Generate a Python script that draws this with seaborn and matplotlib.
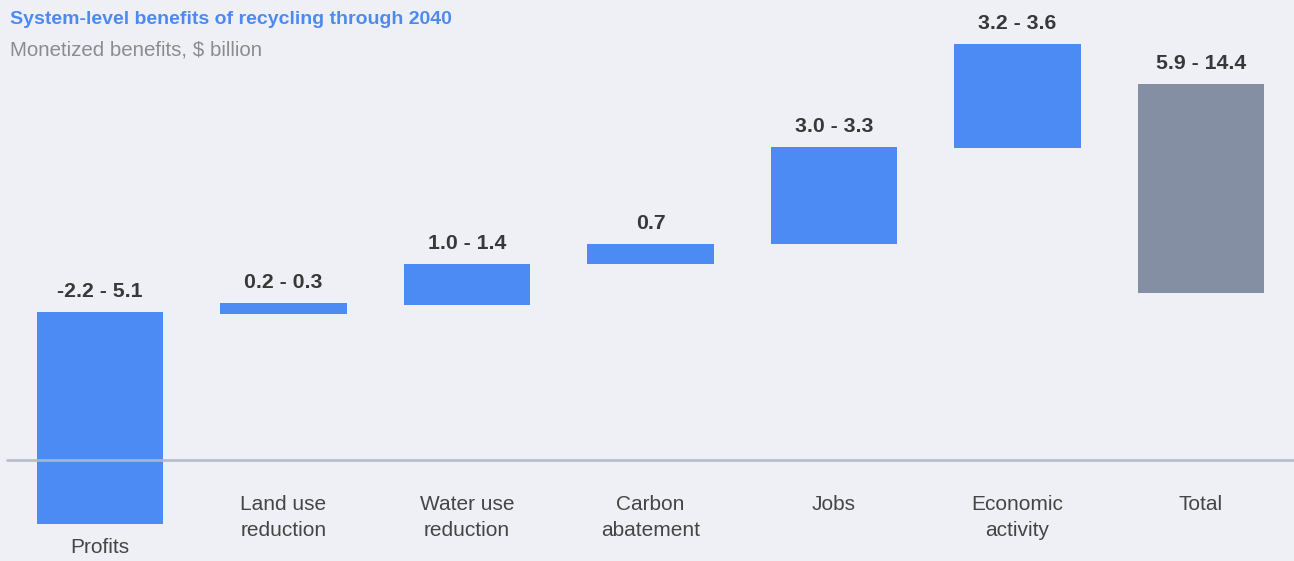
import matplotlib
matplotlib.use("Agg")
import matplotlib.pyplot as plt
import numpy as np
import seaborn as sns

# data (bars float between bottom and top)
categories = ["Profits", "Land use\nreduction", "Water use\nreduction", "Carbon\nabatement",
              "Jobs", "Economic\nactivity", "Total"]
value_labels = ["-2.2 - 5.1", "0.2 - 0.3", "1.0 - 1.4", "0.7", "3.0 - 3.3", "3.2 - 3.6", "5.9 - 14.4"]
bar_bottoms = [-2.2, 5.05, 5.35, 6.75, 7.45, 10.75, 5.75]
bar_tops = [5.1, 5.4, 6.75, 7.45, 10.8, 14.35, 12.95]

BG = "#eff0f5"
BLUE = "#4c8af4"
GREY = "#848fa3"

sns.set_theme(style="white", rc={"figure.facecolor": BG, "axes.facecolor": BG})
plt.rcParams["font.family"] = ["Liberation Sans", "DejaVu Sans"]

heights = np.array(bar_tops) - np.array(bar_bottoms)

fig = plt.figure(figsize=(12.94, 5.61), dpi=100)
ax = fig.add_axes([0, 0, 1, 1])

sns.barplot(x=categories, y=heights, bottom=bar_bottoms, color=BLUE, saturation=1,
            width=0.69, linewidth=0, edgecolor="none", ax=ax, zorder=2)
ax.patches[-1].set_facecolor(GREY)

# baseline
ax.axhline(0, xmin=7 / 1294, xmax=1, color="#b4b9c6", lw=2, alpha=0.9, zorder=3)

for i, (lab, top, bot) in enumerate(zip(value_labels, bar_tops, bar_bottoms)):
    ax.annotate(lab, (i, top), xytext=(0, 8), textcoords="offset points",
                ha="center", va="bottom", fontsize=15.3, fontweight="bold", color="#383838")
    ly = min(-1.2, bot - 0.5)
    ax.text(i, ly, categories[i], ha="center", va="top", fontsize=15, color="#454545",
            linespacing=1.45)

ax.set_xlim(-0.545, 6.507)
ax.set_ylim(-3.483, 15.86)
ax.axis("off")

fig.text(10 / 1294, 1 - 20 / 561, "System-level benefits of recycling through 2040",
         ha="left", va="center", fontsize=14, fontweight="bold", color="#4d8af0")
fig.text(10 / 1294, 1 - 50 / 561, "Monetized benefits, $ billion",
         ha="left", va="center", fontsize=14.8, color="#8c8c8c")

fig.savefig("out.png", dpi=100, facecolor=BG)
